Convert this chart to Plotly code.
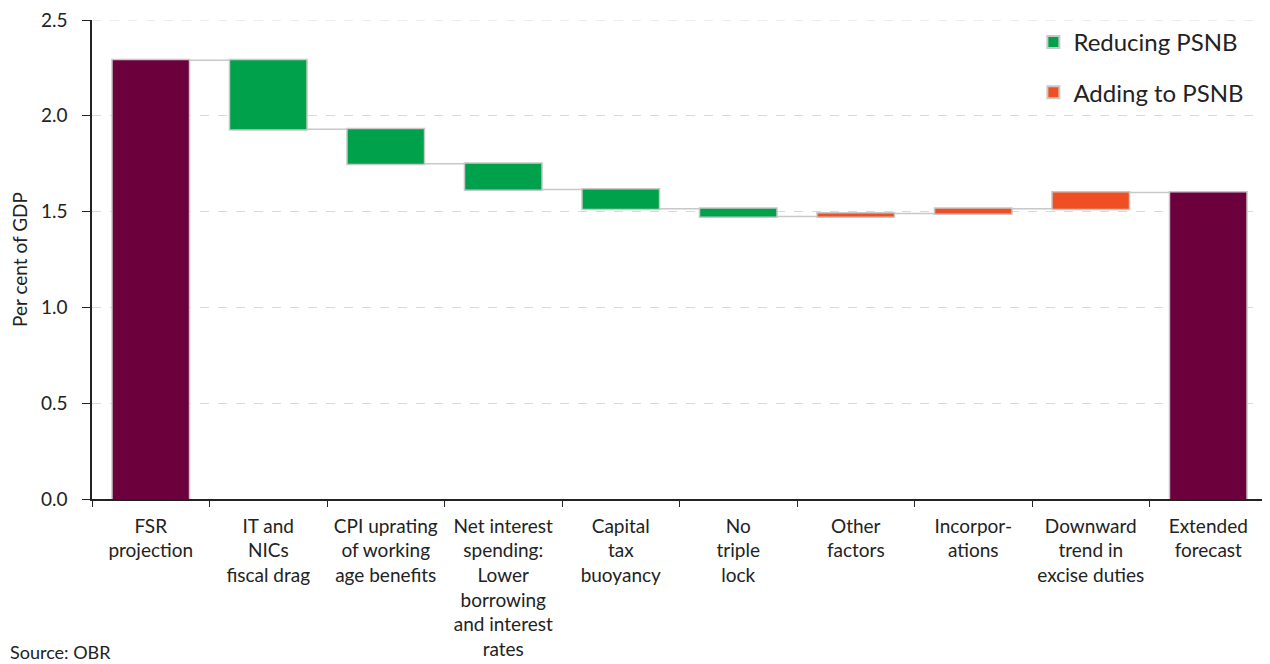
import plotly.graph_objects as go

categories = ["FSR<br>projection", "IT and<br>NICs<br>fiscal drag", "CPI uprating<br>of working<br>age benefits",
              "Net interest<br>spending:<br>Lower<br>borrowing<br>and interest<br>rates",
              "Capital<br>tax<br>buoyancy", "No<br>triple<br>lock", "Other<br>factors",
              "Incorpor-<br>ations", "Downward<br>trend in<br>excise duties", "Extended<br>forecast"]
values = [2.29, -0.36, -0.18, -0.135, -0.10, -0.04, 0.015, 0.025, 0.085, 0]
measures = ["absolute"] + ["relative"] * 8 + ["total"]

GREEN = "#00A14B"
ORANGE = "#F04E23"
PURPLE = "#6C003C"
BORDER = "#C8C8C8"
FONT = "Lato, 'Noto Sans', sans-serif"

fig = go.Figure()
fig.add_trace(go.Waterfall(
    x=categories, y=values, measure=measures,
    increasing=dict(marker=dict(color=ORANGE, line=dict(color=BORDER, width=1.5))),
    decreasing=dict(marker=dict(color=GREEN, line=dict(color=BORDER, width=1.5))),
    totals=dict(marker=dict(color=PURPLE, line=dict(color=BORDER, width=1.5))),
    connector=dict(line=dict(color=BORDER, width=1.5), mode="between"),
    showlegend=False, width=0.66, hoverinfo="skip", textinfo="none",
))
for i, (name, col) in enumerate([("Reducing PSNB", GREEN), ("Adding to PSNB", ORANGE)]):
    fig.add_trace(go.Scatter(x=[None], y=[None], mode="markers", name=name,
                             legendgroup=f"g{i}",
                             marker=dict(symbol="square", size=12, color=col,
                                         line=dict(color=BORDER, width=1.5))))

fig.update_layout(
    width=1262, height=656, plot_bgcolor="white", paper_bgcolor="white",
    margin=dict(l=84, r=3, t=12, b=165),
    font=dict(family=FONT, color="#222222", size=19),
    legend=dict(x=0.985, y=1.0, xanchor="right", yanchor="top", font=dict(size=24),
                bgcolor="rgba(0,0,0,0)", itemsizing="constant", tracegroupgap=16,
                itemwidth=30),
    annotations=[dict(text="Source: OBR", x=-84/1175, y=-(652-499)/479, xref="paper", yref="paper",
                      xanchor="left", yanchor="middle", showarrow=False,
                      font=dict(size=18, family=FONT, color="#222222"))],
    shapes=[dict(type="line", xref="paper", yref="y", x0=0, x1=1, y0=2.5, y1=2.5,
                 line=dict(color="#D9D9D9", width=1, dash="dash"), layer="below")],
)
fig.update_yaxes(range=[0, 2.5], dtick=0.5, tickformat=".1f", showgrid=True,
                 gridcolor="#D9D9D9", griddash="dash", gridwidth=1,
                 showline=True, linecolor="#222222", linewidth=1.5,
                 ticks="outside", ticklen=8, tickcolor="#222222",
                 tickfont=dict(size=19), zeroline=False, automargin=False,
                 ticklabelstandoff=11, ticklabeloverflow="allow",
                 title=dict(text="Per cent of GDP", font=dict(size=19), standoff=14))
fig.update_xaxes(showline=True, linecolor="#222222", linewidth=1.5,
                 ticks="outside", tickson="boundaries", ticklen=6, tickcolor="#222222",
                 tickfont=dict(size=19), showgrid=False, tickangle=0, automargin=False,
                 ticklabelstandoff=9, ticklabeloverflow="allow")

fig.write_html("out.html")
